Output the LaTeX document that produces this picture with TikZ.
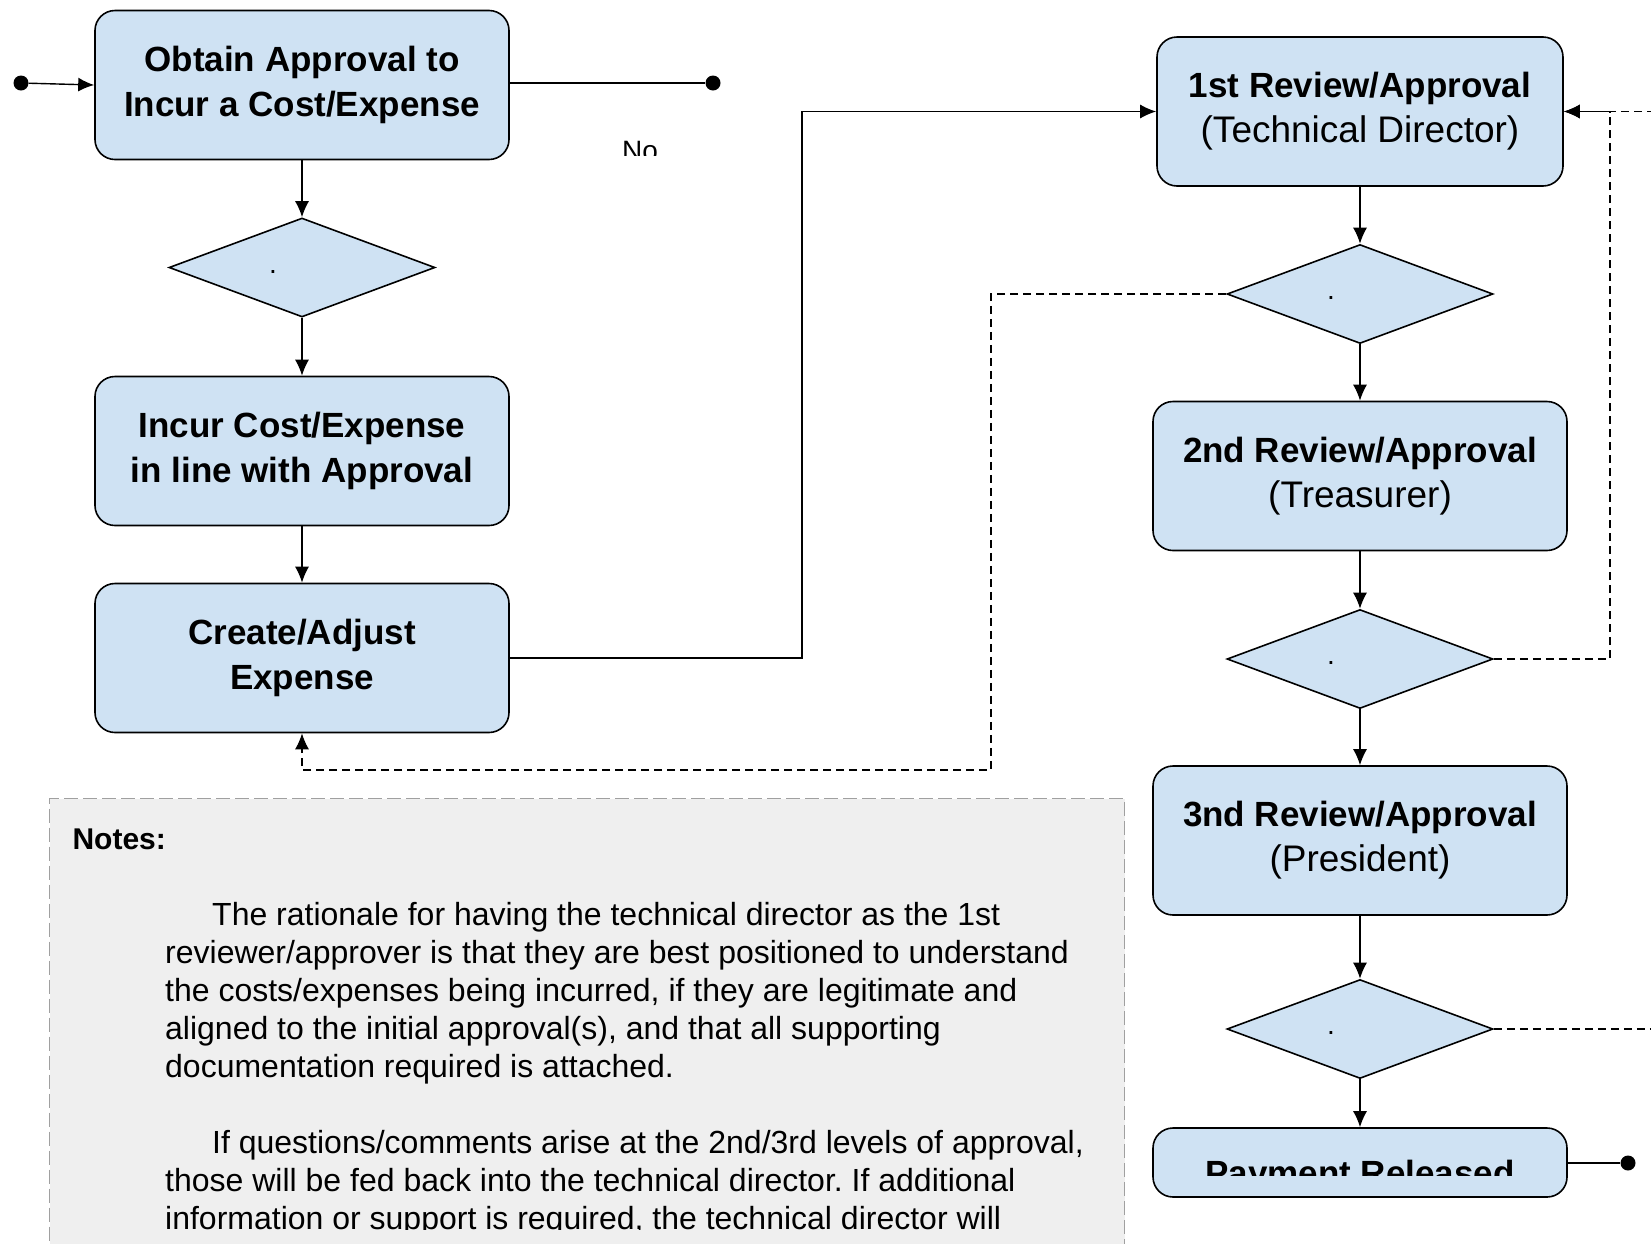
\documentclass[tikz,border=0pt]{standalone}
\usepackage{fontspec}
\setmainfont{Liberation Sans}
\usetikzlibrary{shapes.geometric,arrows.meta}
\definecolor{boxblue}{HTML}{CFE2F3}
\definecolor{notegray}{HTML}{EFEFEF}
\definecolor{noteline}{HTML}{A0A0A0}
\tikzset{
  stepbox/.style={draw, fill=boxblue, rounded corners=20pt, line width=1.6pt,
    minimum width=414pt, minimum height=149pt, align=center, inner sep=0pt,
    font=\fontsize{35}{45}\selectfont},
  decision/.style={draw, fill=boxblue, diamond, line width=1.6pt,
    minimum width=266pt, minimum height=99pt, inner sep=0pt,
    label={[font=\fontsize{28}{28}\selectfont, xshift=-29pt, yshift=-4pt]center:.}},
  flow/.style={line width=1.4pt, -{Latex[length=16pt,width=14pt]}},
  back/.style={flow, dash pattern=on 8pt off 5pt},
  enddot/.style={circle, fill, inner sep=0pt, minimum size=15pt},
}
\newcommand{\sub}[1]{{\fontsize{37}{45}\selectfont #1}}
\frenchspacing
\begin{document}
\begin{tikzpicture}[x=1pt,y=-1pt]
\useasboundingbox (0,0) rectangle (1651,1243);
% left column
\node[enddot] (start) at (21,83) {};
\node[stepbox] (obtain) at (302,85) {\textbf{Obtain Approval to}\\\textbf{Incur a Cost/Expense}};
\node[enddot] (stop1) at (713,83) {};
\node[decision] (d1) at (302,267.5) {};
\node[stepbox] (incur) at (302,451) {\textbf{Incur Cost/Expense}\\\textbf{in line with Approval}};
\node[stepbox] (create) at (302,658) {\textbf{Create/Adjust}\\\textbf{Expense}};
\begin{scope}
  \clip (600,120) rectangle (700,155);
  \node[font=\fontsize{28}{28}\selectfont, anchor=base] (no) at (640,160) {No};
\end{scope}
% right column
\node[stepbox, minimum width=406pt] (rev1) at (1360,111.5) {\textbf{1st Review/Approval}\\\sub{(Technical Director)}};
\node[decision] (d2) at (1360,294) {};
\node[stepbox] (rev2) at (1360,476) {\textbf{2nd Review/Approval}\\\sub{(Treasurer)}};
\node[decision] (d3) at (1360,659) {};
\node[stepbox] (rev3) at (1360,840.5) {\textbf{3nd Review/Approval}\\\sub{(President)}};
\node[decision] (d4) at (1360,1029) {};
\node[stepbox, minimum height=69pt] (pay) at (1360,1162.5) {};
\begin{scope}
  \clip (1160,1130) rectangle (1560,1175);
  \node[font=\fontsize{35}{45}\selectfont\bfseries, anchor=base] (paytext) at (1360,1185) {Payment Released};
\end{scope}
\node[enddot] (stop2) at (1628,1163) {};
% connectors
\coordinate (bend1) at (802,300);
\coordinate (bend2) at (991,770);
\coordinate (bend3) at (1610,300);
\coordinate (bend4) at (1720,300);
\draw[flow] (start) -- (obtain.west);
\draw[line width=1.4pt] (obtain.east |- stop1) -- (stop1);
\draw[flow] (obtain) -- (d1);
\draw[flow] (d1) -- (incur);
\draw[flow] (incur) -- (create);
\draw[flow] (create.east) -| (bend1) |- (rev1.west);
\draw[flow] (rev1) -- (d2);
\draw[flow] (d2) -- (rev2);
\draw[flow] (rev2) -- (d3);
\draw[flow] (d3) -- (rev3);
\draw[flow] (rev3) -- (d4);
\draw[flow] (d4) -- (pay);
\draw[line width=1.4pt] (pay.east |- stop2) -- (stop2);
\draw[back] (d2.west) -| (bend2) -| (create.south);
\draw[back] (d3.east) -| (bend3) |- (rev1.east);
\draw[back] (d4.east) -| (bend4) |- (rev1.east);
% notes
\node[draw=noteline, fill=notegray, dash pattern=on 14pt off 5pt, line width=1.2pt,
  minimum width=1075pt, minimum height=500pt, anchor=north west, inner sep=0pt] (notes) at (49,798) {};
\node[font=\fontsize{30}{30}\selectfont\bfseries, anchor=west] (notestitle) at (69,839) {Notes:};
\begin{scope}
  \clip (50,850) rectangle (1122,1229);
  \node[font=\fontsize{32}{38}\selectfont, align=left, anchor=north west, inner sep=0pt] (notestext) at (165,902) {%
    \hspace*{47pt}The rationale for having the technical director as the 1st\\
    reviewer/approver is that they are best positioned to understand\\
    the costs/expenses being incurred, if they are legitimate and\\
    aligned to the initial approval(s), and that all supporting\\
    documentation required is attached.\\[38pt]
    \hspace*{47pt}If questions/comments arise at the 2nd/3rd levels of approval,\\
    those will be fed back into the technical director. If additional\\
    information or support is required, the technical director will};
\end{scope}
\end{tikzpicture}
\end{document}
